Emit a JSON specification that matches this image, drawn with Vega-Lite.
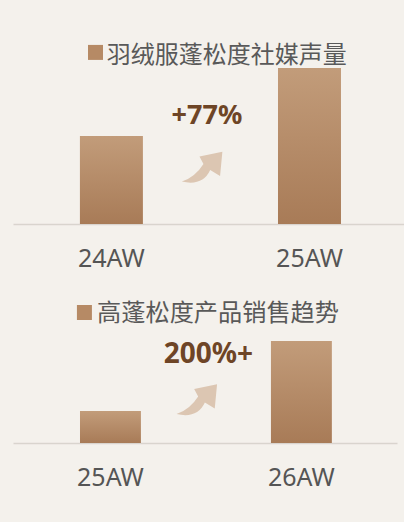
{
  "$schema": "https://vega.github.io/schema/vega-lite/v6.json",
  "background": "#f4f1ec",
  "padding": {"left": 13, "top": 0, "right": 0, "bottom": 79},
  "bounds": "flush",
  "spacing": 66,
  "config": {
    "view": {"stroke": null},
    "axis": {
      "domainColor": "#d9d4ce",
      "domainWidth": 1.5,
      "ticks": false,
      "tickSize": 0,
      "grid": false,
      "labelFont": "Noto Sans",
      "labelFontSize": 25,
      "labelColor": "#555555",
      "labelPadding": 22,
      "labelAngle": 0,
      "title": null
    }
  },
  "vconcat": [
    {
      "width": 391,
      "height": 224,
      "layer": [
        {
          "data": {"values": [{"season": "24AW", "v": 88}, {"season": "25AW", "v": 156}]},
          "mark": {"type": "bar", "color": {"gradient": "linear", "x1": 0, "y1": 0, "x2": 0, "y2": 1, "stops": [{"offset": 0, "color": "#c29c7a"}, {"offset": 1, "color": "#a87b57"}]}},
          "encoding": {
            "x": {"field": "season", "type": "nominal", "scale": {"paddingInner": 0.682, "paddingOuter": 0.328, "align": 0.515}},
            "y": {"field": "v", "type": "quantitative", "scale": {"domain": [0, 224]}, "axis": null}
          }
        },
        {
          "data": {"values": [{"px": 21.1, "py": 76.6}]},
          "mark": {"type": "point", "shape": "square", "size": 225, "filled": true, "opacity": 1, "strokeWidth": 0, "color": "#b68a65"},
          "encoding": {
            "x": {"field": "px", "type": "quantitative", "scale": {"domain": [0, 100]}, "axis": null},
            "y": {"field": "py", "type": "quantitative", "scale": {"domain": [0, 100]}, "axis": null}
          }
        },
        {
          "data": {"values": [{"px": 24.0, "py": 75.2, "t": "羽绒服蓬松度社媒声量"}]},
          "mark": {"type": "text", "align": "left", "baseline": "middle", "font": "Noto Sans CJK SC", "fontSize": 24, "color": "#595959"},
          "encoding": {
            "x": {"field": "px", "type": "quantitative", "scale": {"domain": [0, 100]}, "axis": null},
            "y": {"field": "py", "type": "quantitative", "scale": {"domain": [0, 100]}, "axis": null},
            "text": {"field": "t"}
          }
        },
        {
          "data": {"values": [{"px": 49.6, "py": 48.0, "t": "+77%"}]},
          "mark": {"type": "text", "align": "center", "baseline": "middle", "font": "Noto Sans", "fontWeight": "bold", "fontSize": 27, "color": "#6e4526"},
          "encoding": {
            "x": {"field": "px", "type": "quantitative", "scale": {"domain": [0, 100]}, "axis": null},
            "y": {"field": "py", "type": "quantitative", "scale": {"domain": [0, 100]}, "axis": null},
            "text": {"field": "t"}
          }
        },
        {
          "data": {"values": [{"px": 48.5, "py": 25.7}]},
          "mark": {"type": "point", "shape": "M 0.94 -0.70 L -0.15 -0.47 L 0.04 -0.12 Q -0.35 0.5 -0.99 0.72 Q 0.0 0.95 0.36 0.17 L 0.83 0.45 Z", "size": 1764, "filled": true, "opacity": 1, "strokeWidth": 0, "color": "#dcc6b2"},
          "encoding": {
            "x": {"field": "px", "type": "quantitative", "scale": {"domain": [0, 100]}, "axis": null},
            "y": {"field": "py", "type": "quantitative", "scale": {"domain": [0, 100]}, "axis": null}
          }
        }
      ],
      "resolve": {"scale": {"x": "independent", "y": "independent"}}
    },
    {
      "width": 384,
      "height": 153,
      "layer": [
        {
          "data": {"values": [{"season": "25AW", "v": 32}, {"season": "26AW", "v": 102}]},
          "mark": {"type": "bar", "color": {"gradient": "linear", "x1": 0, "y1": 0, "x2": 0, "y2": 1, "stops": [{"offset": 0, "color": "#c29c7a"}, {"offset": 1, "color": "#a87b57"}]}},
          "encoding": {
            "x": {"field": "season", "type": "nominal", "scale": {"paddingInner": 0.681, "paddingOuter": 0.346, "align": 0.507}},
            "y": {"field": "v", "type": "quantitative", "scale": {"domain": [0, 153]}, "axis": null}
          }
        },
        {
          "data": {"values": [{"px": 18.6, "py": 85.3}]},
          "mark": {"type": "point", "shape": "square", "size": 225, "filled": true, "opacity": 1, "strokeWidth": 0, "color": "#b68a65"},
          "encoding": {
            "x": {"field": "px", "type": "quantitative", "scale": {"domain": [0, 100]}, "axis": null},
            "y": {"field": "py", "type": "quantitative", "scale": {"domain": [0, 100]}, "axis": null}
          }
        },
        {
          "data": {"values": [{"px": 21.9, "py": 84.5, "t": "高蓬松度产品销售趋势"}]},
          "mark": {"type": "text", "align": "left", "baseline": "middle", "font": "Noto Sans CJK SC", "fontSize": 24.2, "color": "#595959"},
          "encoding": {
            "x": {"field": "px", "type": "quantitative", "scale": {"domain": [0, 100]}, "axis": null},
            "y": {"field": "py", "type": "quantitative", "scale": {"domain": [0, 100]}, "axis": null},
            "text": {"field": "t"}
          }
        },
        {
          "data": {"values": [{"px": 50.9, "py": 57.5, "t": "200%+"}]},
          "mark": {"type": "text", "align": "center", "baseline": "middle", "font": "Noto Sans", "fontWeight": "bold", "fontSize": 28, "color": "#6e4526"},
          "encoding": {
            "x": {"field": "px", "type": "quantitative", "scale": {"domain": [0, 100]}, "axis": null},
            "y": {"field": "py", "type": "quantitative", "scale": {"domain": [0, 100]}, "axis": null},
            "text": {"field": "t"}
          }
        },
        {
          "data": {"values": [{"px": 48.0, "py": 28.8}]},
          "mark": {"type": "point", "shape": "M 0.94 -0.70 L -0.15 -0.47 L 0.04 -0.12 Q -0.35 0.5 -0.99 0.72 Q 0.0 0.95 0.36 0.17 L 0.83 0.45 Z", "size": 1764, "filled": true, "opacity": 1, "strokeWidth": 0, "color": "#dcc6b2"},
          "encoding": {
            "x": {"field": "px", "type": "quantitative", "scale": {"domain": [0, 100]}, "axis": null},
            "y": {"field": "py", "type": "quantitative", "scale": {"domain": [0, 100]}, "axis": null}
          }
        }
      ],
      "resolve": {"scale": {"x": "independent", "y": "independent"}}
    }
  ]
}
